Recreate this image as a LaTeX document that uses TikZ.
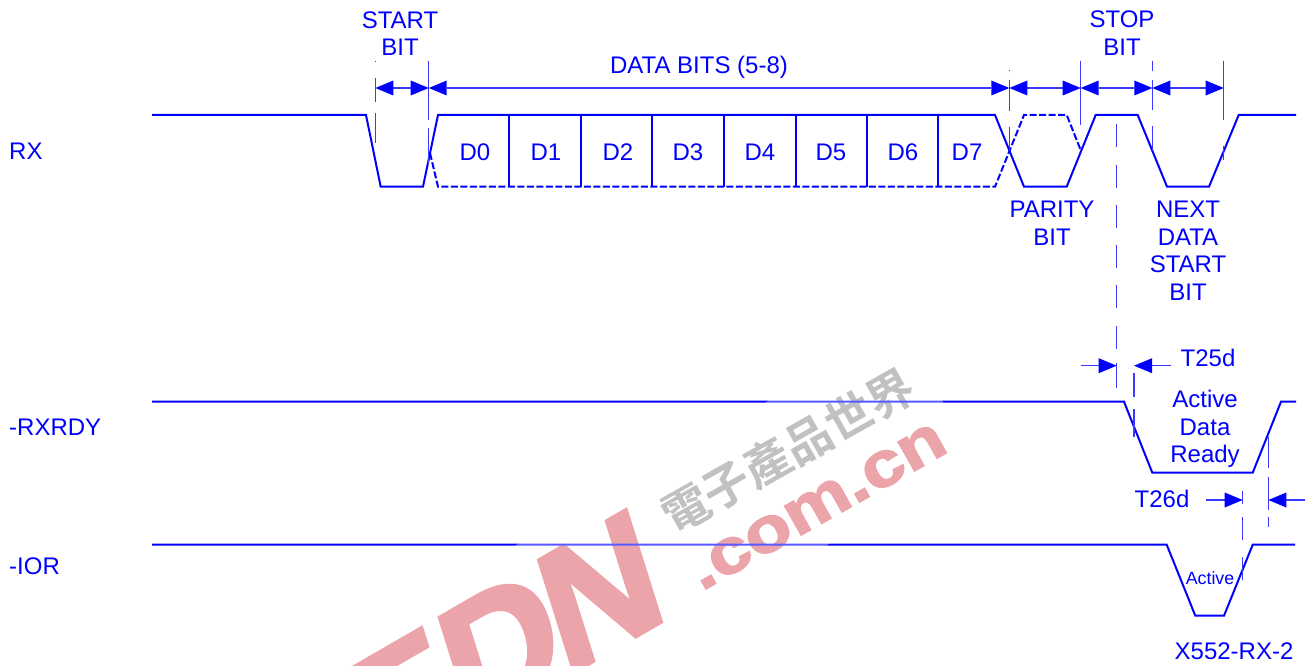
\documentclass[tikz,border=0pt]{standalone}
\usepackage{fontspec}
\setmainfont{Liberation Sans}
\newfontfamily\wmlatin{Liberation Sans Bold}[FakeBold=2.5]
\newfontfamily\wmlogo{Liberation Sans Bold}[FakeBold=2.5]
\newfontfamily\cjkwm{Noto Sans CJK TC Bold}
\usetikzlibrary{arrows.meta}
\definecolor{sigblue}{HTML}{0000FF}
\definecolor{thinblue}{HTML}{3A3AFF}
\definecolor{wmpink}{HTML}{E1757D}
\definecolor{wmgrey}{HTML}{A1A1A1}
\tikzset{
  signal/.style={draw=sigblue,line width=2pt,line join=miter},
  dashsig/.style={signal,dash pattern=on 7pt off 2.5pt},
  divider/.style={draw=sigblue,line width=2pt},
  dimline/.style={draw=thinblue,line width=1.2pt},
  tick/.style={draw=thinblue,line width=1.2pt},
  tipr/.style={-{Triangle[length=18pt,width=15pt,line width=0pt,color=sigblue,fill=sigblue]}},
  tipb/.style={{Triangle[length=18pt,width=15pt,line width=0pt,color=sigblue,fill=sigblue]}-{Triangle[length=18pt,width=15pt,line width=0pt,color=sigblue,fill=sigblue]}},
  lbl/.style={text=sigblue,font=\fontsize{24}{27.5}\selectfont,align=center,inner sep=0pt},
  small/.style={text=sigblue,font=\fontsize{17.8}{20}\selectfont,inner sep=0pt},
}
\begin{document}
\begin{tikzpicture}[x=1pt,y=-1pt]
\useasboundingbox (0,0) rectangle (1314,666);
% watermark
\begin{scope}
\clip (0,0) rectangle (1314,666);
\node[text=wmpink,inner sep=0pt,anchor=base,rotate=29.5,font=\fontsize{63}{63}\wmlatin] (wmcom) at (826,521) {\scalebox{1.2}[1]{.com.cn}};
\begin{scope}[shift={(671,616)},cm={.866,.5,-.30,.954,(0,0)},transform shape]
\node[text=wmpink,inner sep=0pt,anchor=base east,font=\fontsize{170}{170}\wmlogo] (wmedn) at (0,0) {ED\kern-8pt N};
\end{scope}
\node[text=wmgrey,inner sep=0pt,rotate=29.5,font=\fontsize{47}{47}\cjkwm] (wmcn) at (788,451) {電子產品世界};
\end{scope}
% waveforms
\draw[signal] (152,115) -- (366,115) -- (380.7,186.7) -- (423,186.7) -- (438,115) -- (995,115) -- (1024,186.7) -- (1066.7,186.7) -- (1095.7,115) -- (1137.7,115) -- (1167,186.7) -- (1209,186.7) -- (1238.7,115) -- (1296,115);
\draw[dashsig] (430,153) -- (438,186.7) -- (995,186.7) -- (1024,115) -- (1066.7,115) -- (1080.7,150);
\foreach \x in {509.3,580.7,652,724,795.7,867,937.7}
  \draw[divider] (\x,115) -- (\x,186.7);
\draw[signal] (152,401.7) -- (1124,401.7) -- (1152.3,472.7) -- (1252.7,472.7) -- (1281,401.7) -- (1296,401.7);
\draw[signal] (152,544.7) -- (1166.7,544.7) -- (1195.3,615.7) -- (1224,615.7) -- (1252.7,544.7) -- (1295,544.7);
% white veil of the watermark
\begin{scope}
\clip (0,0) rectangle (1314,666);
\fill[white,opacity=.35] (899,326) -- (976,459) -- (620,665) -- (600,680) -- (280,680) -- cycle;
\end{scope}
% extension ticks
\draw[tick] (375.3,61) -- (375.3,62) (375.3,78) -- (375.3,102) (375.3,113) -- (375.3,143);
\draw[tick] (428.7,61) -- (428.7,120) (428.7,128) -- (428.7,165);
\draw[tick] (1009.3,70) -- (1009.3,71) (1009.3,80) -- (1009.3,111) (1009.3,127) -- (1009.3,150);
\draw[tick] (1080.7,61) -- (1080.7,125);
\draw[tick] (1152.3,61) -- (1152.3,71) (1152.3,80) -- (1152.3,110) (1152.3,126) -- (1152.3,150);
\draw[tick] (1223.7,61) -- (1223.7,120) (1223.7,146) -- (1223.7,160);
\foreach \a/\b in {124/147,165/188,205/228,245/268,285/308,326/349,363/388}
  \draw[tick] (1116.7,\a) -- (1116.7,\b);
\draw[tick] (1134,373) -- (1134,397) (1134,409) -- (1134,437);
\draw[tick] (1242.7,491) -- (1242.7,504) (1242.7,517) -- (1242.7,540) (1242.7,557) -- (1242.7,580);
\draw[tick] (1268.3,437) -- (1268.3,468) (1268.3,477) -- (1268.3,510) (1268.3,517) -- (1268.3,527);
% dimension arrows
\coordinate (d0) at (375.3,88);
\coordinate (d1) at (428.7,88);
\coordinate (d2) at (1009.3,88);
\coordinate (d3) at (1080.7,88);
\coordinate (d4) at (1152.3,88);
\coordinate (d5) at (1223.7,88);
\foreach \p/\q in {d0/d1,d1/d2,d2/d3,d3/d4,d4/d5}
  \draw[dimline,tipb] (\p) -- (\q);
\coordinate (t25a) at (1080.7,365.7);
\coordinate (t25b) at (1116.7,365.7);
\coordinate (t25c) at (1170.7,365.7);
\coordinate (t25d) at (1134,365.7);
\draw[dimline,tipr] (t25a) -- (t25b);
\draw[dimline,tipr] (t25c) -- (t25d);
\coordinate (t26a) at (1206,500);
\coordinate (t26b) at (1242.7,500);
\coordinate (t26c) at (1305,500);
\coordinate (t26d) at (1268.3,500);
\draw[dimline,tipr] (t26a) -- (t26b);
\draw[dimline,tipr] (t26c) -- (t26d);
% labels
\node[lbl,anchor=west] (rx) at (9,151.5) {RX};
\node[lbl,anchor=west] (rxrdy) at (9,427.5) {-RXRDY};
\node[lbl,anchor=west] (ior) at (9,566.5) {-IOR};
\node[lbl] (start) at (400,33.5) {START\\BIT};
\node[lbl] (data) at (699,67.5) {DATA BITS (5-8)};
\node[lbl] (stop) at (1122,33) {STOP\\BIT};
\node[lbl] (parity) at (1052,223) {PARITY\\BIT};
\node[lbl] (next) at (1188,250.5) {NEXT\\DATA\\START\\BIT};
\foreach \x/\t in {475/D0,546/D1,618/D2,688/D3,760/D4,831/D5,903/D6,967/D7}
  \node[lbl] (l\t) at (\x,152) {\t};
\node[lbl] (t25) at (1208,358) {T25d};
\node[lbl] (adr) at (1205,429) {Active\\Data\\Ready};
\node[lbl] (t26) at (1162,498.5) {T26d};
\node[small] (act) at (1210,578) {Active};
\node[lbl] (fig) at (1234,651) {X552-RX-2};
\end{tikzpicture}
\end{document}
